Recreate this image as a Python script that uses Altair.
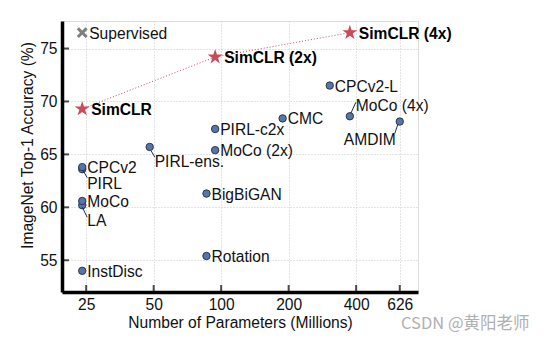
import altair as alt
import pandas as pd

# ---- data ----
methods = ["InstDisc", "LA", "MoCo", "PIRL", "CPCv2", "PIRL-ens.", "Rotation", "BigBiGAN",
           "MoCo (2x)", "PIRL-c2x", "CMC", "CPCv2-L", "MoCo (4x)", "AMDIM"]
params = [24, 24, 24, 24, 24, 48, 86, 86, 94, 94, 188, 305, 375, 626]
acc = [54.0, 60.2, 60.6, 63.6, 63.8, 65.7, 55.4, 61.3, 65.4, 67.4, 68.4, 71.5, 68.6, 68.1]

simclr_names = ["SimCLR", "SimCLR (2x)", "SimCLR (4x)"]
simclr_params = [24, 94, 375]
simclr_acc = [69.3, 74.2, 76.5]

sup_name = ["Supervised"]
sup_params = [24]
sup_acc = [76.5]

x_ticks = [25, 50, 100, 200, 400, 626]
y_ticks = [55, 60, 65, 70, 75]

# label offsets (pixels): dx, dy, align
label_style = {
    "PIRL": (5, 15, "left"), "LA": (5, 16, "left"), "PIRL-ens.": (5, 15, "left"),
    "MoCo (4x)": (6, -10, "left"), "AMDIM": (-4, 18, "right"), "MoCo": (5, 1, "left"),
}
leader = {  # start dx,dy ; end dx,dy
    "PIRL": (1, 1.5, 5, 8.5), "LA": (0, 2, 5, 12), "PIRL-ens.": (1.5, 4, 5, 10),
    "MoCo (4x)": (1, -3, 6, -14), "AMDIM": (-2, 3, -5, 12),
}

df = pd.DataFrame({"method": methods, "params": params, "acc": acc})
ds = pd.DataFrame({"method": simclr_names, "params": simclr_params, "acc": simclr_acc})
dsup = pd.DataFrame({"method": sup_name, "params": sup_params, "acc": sup_acc})
dxt = pd.DataFrame({"t": x_ticks})
dyt = pd.DataFrame({"t": y_ticks})

W, H = 356, 271
FONT = "Liberation Sans"
FS = 15.6

grid_axis = dict(grid=True, gridDash=[1, 2], gridColor="#c8c8c8", gridWidth=1,
                 domainColor="black", domainWidth=3.5, ticks=False,
                 labelFont=FONT, labelFontSize=FS, labelColor="#111",
                 titleFont=FONT, titleFontSize=FS, titleFontWeight="normal", titleColor="#111")

xs = alt.Scale(type="log", domain=[19.5, 755], nice=False)
ys = alt.Scale(domain=[52, 77.6], nice=False, zero=False)

X = alt.X("params:Q", scale=xs,
          axis=alt.Axis(values=x_ticks, title="Number of Parameters (Millions)",
                        labelPadding=5, titlePadding=3, **grid_axis))
Y = alt.Y("acc:Q", scale=ys,
          axis=alt.Axis(values=y_ticks, title="ImageNet Top-1 Accuracy (%)",
                        labelPadding=5, titlePadding=4, titleY=124, **grid_axis))

base = alt.Chart(df).encode(x=X, y=Y)

points = base.mark_point(shape="circle", filled=True, size=55, fill="#5875a6",
                         stroke="#1e2c48", strokeWidth=0.9, opacity=1)

STAR = ("M0,-1 L0.2245,-0.309 L0.951,-0.309 L0.363,0.118 L0.588,0.809 L0,0.382 "
        "L-0.588,0.809 L-0.363,0.118 L-0.951,-0.309 L-0.2245,-0.309 Z")
XSHAPE = ("M-1,-0.6 L-0.6,-1 L0,-0.4 L0.6,-1 L1,-0.6 L0.4,0 L1,0.6 L0.6,1 L0,0.4 "
          "L-0.6,1 L-1,0.6 L-0.4,0 Z")

sline = alt.Chart(ds).mark_line(color="#c44e5e", strokeWidth=1, strokeDash=[1, 2]).encode(
    x="params:Q", y="acc:Q", order="params:Q")
stars = alt.Chart(ds).mark_point(shape=STAR, filled=True, size=250, color="#c94a5a",
                                 opacity=1).encode(x="params:Q", y="acc:Q")
slabels = alt.Chart(ds).mark_text(align="left", baseline="middle", dx=9, dy=1, font=FONT,
                                  fontSize=FS, fontWeight="bold", color="#000").encode(
    x="params:Q", y="acc:Q", text="method:N")

sup = alt.Chart(dsup).mark_point(shape=XSHAPE, filled=True, size=120, color="#7f7f7f",
                                 opacity=1).encode(x="params:Q", y="acc:Q")
suplabel = alt.Chart(dsup).mark_text(align="left", baseline="middle", dx=7, dy=1, font=FONT,
                                     fontSize=FS, color="#111").encode(
    x="params:Q", y="acc:Q", text="method:N")

layers = [sline]

# leader lines
for name, (sx, sy, ex, ey) in leader.items():
    layers.append(
        alt.Chart(df).transform_filter(alt.datum.method == name)
        .mark_rule(color="#1e2c48", strokeWidth=1, xOffset=sx, yOffset=sy,
                   x2Offset=ex, y2Offset=ey)
        .encode(x="params:Q", y="acc:Q", x2="params:Q", y2="acc:Q"))

default_names = [m for m in methods if m not in label_style]
layers.append(
    alt.Chart(df).transform_filter(alt.FieldOneOfPredicate(field="method", oneOf=default_names))
    .mark_text(align="left", baseline="middle", dx=5, dy=1, font=FONT, fontSize=FS, color="#111")
    .encode(x="params:Q", y="acc:Q", text="method:N"))
for name, (dx, dy, al) in label_style.items():
    layers.append(
        alt.Chart(df).transform_filter(alt.datum.method == name)
        .mark_text(align=al, baseline="middle", dx=dx, dy=dy, font=FONT, fontSize=FS, color="#111")
        .encode(x="params:Q", y="acc:Q", text="method:N"))

xtick = alt.Chart(dxt).mark_tick(color="black", thickness=2, size=7).encode(
    x=alt.X("t:Q"), y=alt.value(H - 3.5))
ytick = alt.Chart(dyt).mark_tick(color="black", thickness=2, size=7).encode(
    y=alt.Y("t:Q"), x=alt.value(3.5))

watermark = alt.Chart(pd.DataFrame({"w": ["CSDN @黄阳老师"]})).mark_text(
    align="left", baseline="middle", font="Noto Sans CJK SC", fontSize=16.5, color="#b0b0b0"
).encode(x=alt.value(339), y=alt.value(303), text="w:N")

chart = alt.layer(points, *layers, stars, slabels, sup, suplabel, xtick, ytick, watermark,
                  ).encode(x=X, y=Y).properties(
    width=W, height=H,
    autosize=alt.AutoSizeParams(type="none"),
    padding={"left": 62, "top": 21, "right": 132, "bottom": 48},
).configure_view(stroke=None).configure(background="white")

chart.save("out.html", embed_options={"renderer": "svg", "actions": False})
